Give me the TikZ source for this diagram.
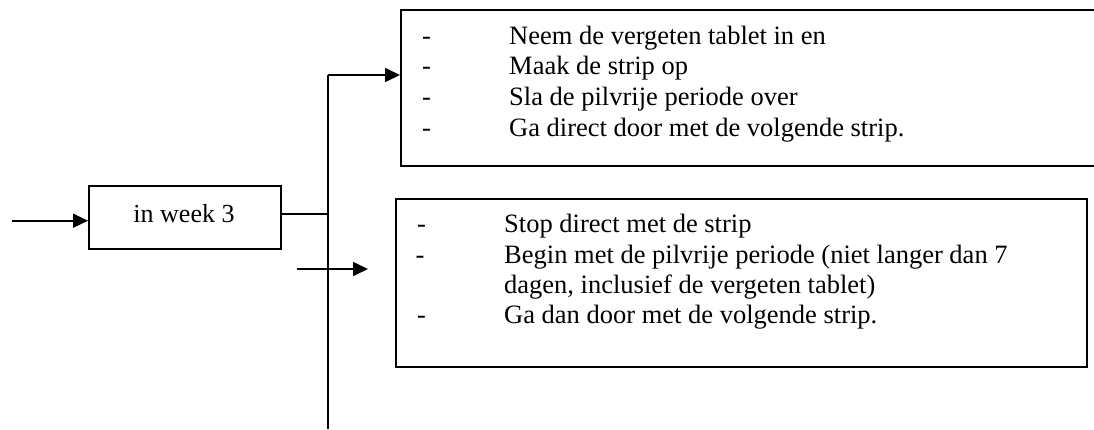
\documentclass[tikz,border=0pt]{standalone}
\usepackage{fontspec}
\setmainfont{Liberation Serif}
\usetikzlibrary{arrows.meta}
\begin{document}
\begin{tikzpicture}[x=1pt,y=-1pt,
  ln/.style={line width=1.6pt},
  arr/.style={line width=1.6pt,-{Triangle[length=15pt,width=14pt]}},
  boxn/.style={draw,line width=1.6pt,inner sep=0pt,anchor=north west},
  txt/.style={anchor=base west,inner sep=0pt,font=\fontsize{26.5}{30}\selectfont},
  ctxt/.style={anchor=base,inner sep=0pt,font=\fontsize{26}{30}\selectfont}]
\useasboundingbox (0,0) rectangle (1094,429);
\clip (0,0) rectangle (1094,429);
% boxes
\node[boxn,minimum width=192pt,minimum height=63pt] (wk) at (88,185) {};
\node[ctxt] (wkt) at (184,222) {in week 3};
\node[boxn,minimum width=720pt,minimum height=156pt] (top) at (400,9) {};
\node[boxn,minimum width=691pt,minimum height=168pt] (bot) at (395,198) {};
% top box text
\foreach \y/\t [count=\i] in {44/{Neem de vergeten tablet in en},74.5/{Maak de strip op},105/{Sla de pilvrije periode over},136/{Ga direct door met de volgende strip.}}{
  \node[txt] (td\i) at (422,\y) {-};
  \node[txt] (tt\i) at (509,\y) {\t};
}
% bottom box text
\node[txt] (bd1) at (417,232.7) {-};
\node[txt] (bt1) at (504,232.7) {Stop direct met de strip};
\node[txt] (bd2) at (415.5,263) {-};
\node[txt] (bt2) at (504,263) {Begin met de pilvrije periode (niet langer dan 7};
\node[txt] (bt3) at (504,293.3) {dagen, inclusief de vergeten tablet)};
\node[txt] (bd4) at (417,323.6) {-};
\node[txt] (bt4) at (504,323.6) {Ga dan door met de volgende strip.};
% connectors
\coordinate (in) at (12,220.7);
\coordinate (j) at (328,213.7);
\coordinate (vt) at (328,75);
\coordinate (vb) at (328,429);
\coordinate (fa) at (297,269);
\coordinate (fb) at (368,269);
\draw[arr] (in) -- (wk.west |- in);
\draw[ln] (wk.east |- j) -- (j);
\draw[ln] (vb) -- (vt);
\draw[arr] (vt) -- (top.west |- vt);
\draw[arr] (fa) -- (fb);
\end{tikzpicture}
\end{document}
